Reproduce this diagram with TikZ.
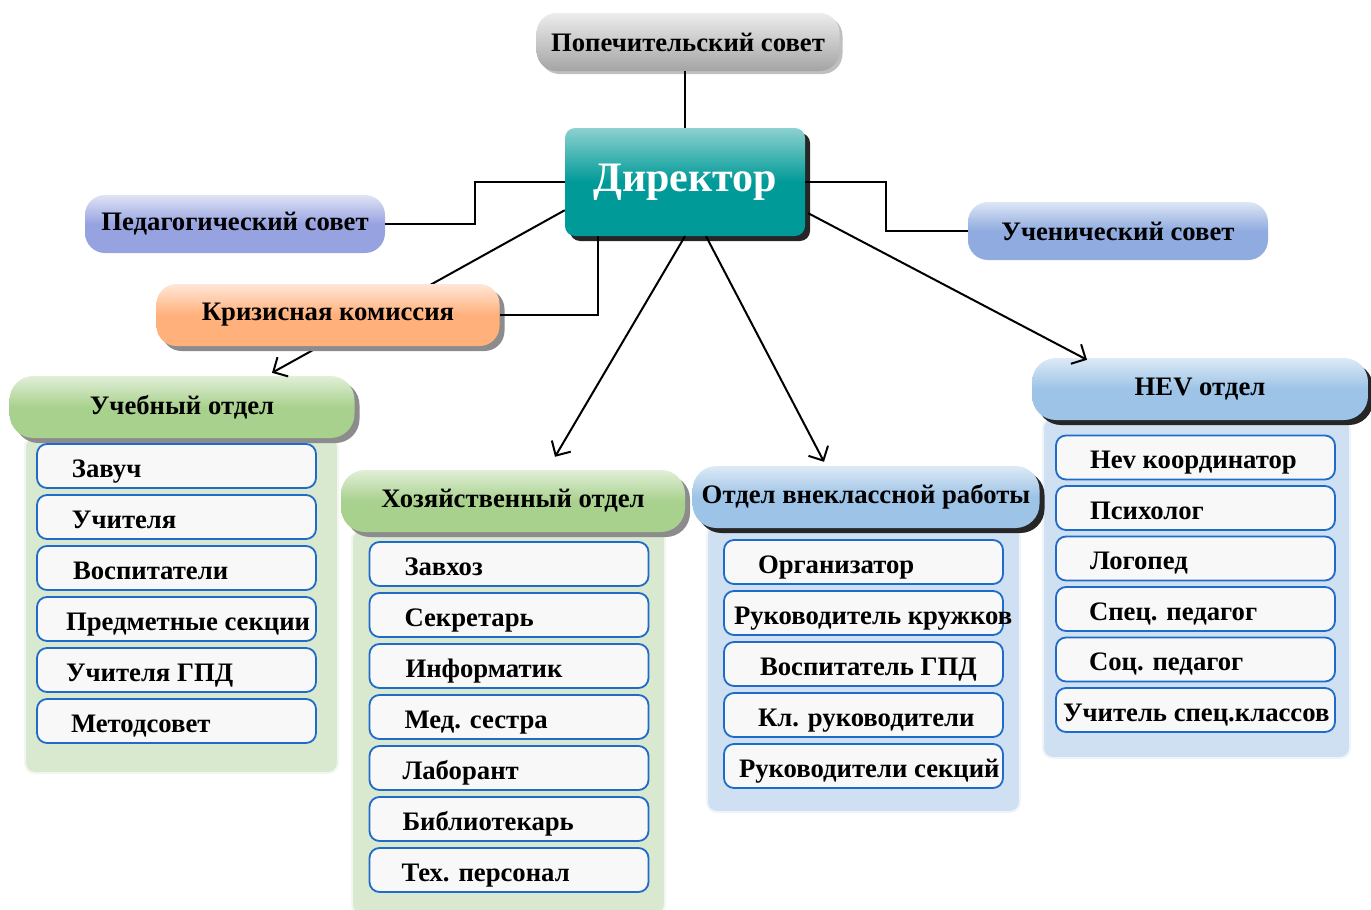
\documentclass[tikz,border=0pt]{standalone}
\usepackage{fontspec}
\setmainfont{Liberation Serif}
\usetikzlibrary{arrows.meta, calc, shadows}

\definecolor{trustgray}{HTML}{A4A4A4}
\definecolor{dirteal}{HTML}{009A98}
\definecolor{pedblue}{HTML}{97A3E0}
\definecolor{studblue}{HTML}{8FABDF}
\definecolor{crisisorange}{HTML}{FFB07B}
\definecolor{deptgreen}{HTML}{A9D18E}
\definecolor{panelgreen}{HTML}{D8E9CF}
\definecolor{deptblue}{HTML}{9DC3E6}
\definecolor{panelblue}{HTML}{CFE0F2}
\definecolor{itemedge}{HTML}{1F6BC9}
\definecolor{itemfill}{HTML}{F8F8F8}

% item text: fixed box width, own indent
\newcommand{\itm}[2]{\makebox[279pt][l]{\hspace{#1pt}#2}}

\begin{document}
\begin{tikzpicture}[x=1pt, y=-1pt,
    council/.style={rectangle, rounded corners=20pt, minimum height=58pt, font=\bfseries\fontsize{26.7}{31}\selectfont},
    chief/.style={rectangle, rounded corners=10pt, minimum width=240pt, minimum height=108pt, top color=dirteal!45!white, bottom color=dirteal, middle color=dirteal, text=white, font=\bfseries\fontsize{42}{48}\selectfont, drop shadow={shadow xshift=5pt, shadow yshift=-5pt, fill=black!85, opacity=1}},
    greendept/.style={rectangle, rounded corners=24pt, minimum height=62pt, top color=deptgreen!35!white, bottom color=deptgreen, middle color=deptgreen, font=\bfseries\fontsize{26.7}{31}\selectfont, drop shadow={shadow xshift=5pt, shadow yshift=-5pt, fill=black!45, opacity=1}},
    bluedept/.style={rectangle, rounded corners=24pt, minimum height=62pt, top color=deptblue!35!white, bottom color=deptblue, middle color=deptblue, font=\bfseries\fontsize{26.7}{31}\selectfont, drop shadow={shadow xshift=5pt, shadow yshift=-5pt, fill=black!85, opacity=1}},
    panel/.style={rectangle, rounded corners=10pt, line width=2pt},
    item/.style={rectangle, rounded corners=10pt, draw=itemedge, line width=1.8pt, fill=itemfill, minimum height=44pt, inner xsep=0pt, text height=22pt, text depth=0pt, font=\bfseries\fontsize{26.7}{31}\selectfont},
    link/.style={line width=2pt},
    arrow/.style={line width=2pt, -{Straight Barb[length=11pt, width=22pt]}}
  ]
  \useasboundingbox (0,0) rectangle (1371,910);

  % Councils and director
  \node[council, minimum width=303pt, top color=trustgray!20!white, bottom color=trustgray, drop shadow={shadow xshift=3pt, shadow yshift=-3pt, fill=black!25, opacity=1}] (trustee) at (688,42) {Попечительский совет};
  \node[chief] (dir) at (685,182) {Директор};
  \node[council, minimum width=300pt, top color=pedblue!30!white, bottom color=pedblue, middle color=pedblue] (ped) at (235,224) {Педагогический совет};
  \node[council, minimum width=300pt, top color=studblue!30!white, bottom color=studblue, middle color=studblue] (stud) at (1118,231) {Ученический совет};

  % Panels behind the lists
  \node[panel, fill=panelgreen, draw=panelgreen!35!white, minimum width=313pt, minimum height=336pt] (studypanel) at (181.5,605) {};
  \node[panel, fill=panelgreen, draw=panelgreen!35!white, minimum width=313pt, minimum height=385pt] (econpanel) at (508.5,722) {};
  \node[panel, fill=panelblue, draw=panelblue!35!white, minimum width=313pt, minimum height=287pt] (extrapanel) at (863.5,668.5) {};
  \node[panel, fill=panelblue, draw=panelblue!35!white, minimum width=307pt, minimum height=340pt] (hevpanel) at (1196.5,588) {};

  % Department headers
  \node[greendept, minimum width=345pt] (study) at (182,407) {Учебный отдел};
  \node[greendept, minimum width=344pt] (econ) at (513,501) {Хозяйственный отдел};
  \node[bluedept, minimum width=347pt] (extra) at (866,497) {Отдел внеклассной работы};
  \node[bluedept, minimum width=336pt] (hev) at (1200,389) {HEV отдел};

  % Lists
  \foreach \txt/\ind [count=\i] in {Завуч/35, Учителя/35, Воспитатели/36, Предметные секции/29, Учителя ГПД/29, Методсовет/34} {
      \node[item] (study\i) at (176.5,{415+51*\i}) {\itm{\ind}{\txt}};
    }
  \foreach \txt/\ind [count=\i] in {Завхоз/35, Секретарь/35, Информатик/36, Мед. сестра/35, Лаборант/33, Библиотекарь/33, Тех. персонал/32} {
      \node[item] (econ\i) at (509,{513+51*\i}) {\itm{\ind}{\txt}};
    }
  \foreach \txt/\ind [count=\i] in {Организатор/34, Руководитель кружков/10, Воспитатель ГПД/36, Кл. руководители/34, Руководители секций/15} {
      \node[item] (extra\i) at (863.5,{511+51*\i}) {\itm{\ind}{\txt}};
    }
  \foreach \txt/\ind [count=\i] in {Hev координатор/34, Психолог/34, Логопед/34, Спец. педагог/33, Соц. педагог/33, Учитель спец.классов/7} {
      \node[item] (hev\i) at (1195.5,{407+50.5*\i}) {\itm{\ind}{\txt}};
    }

  % Connectors
  \draw[link] (dir.north) -- (dir.north |- trustee.south);
  \draw[link] (dir.west) -- ++(-90,0) |- (ped.east);
  \draw[link] (dir.east) -- ++(81,0) |- (stud.west);
  \draw[arrow] ($(dir.south west)+(0,-26)$) -- ($(study.north)+(90,-3)$);
  \draw[arrow] (dir.south) -- ($(econ.north)+(42,-13)$);
  \draw[arrow] ($(dir.south)+(21,0)$) -- ($(extra.north)+(-42,-4)$);
  \draw[arrow] ($(dir.south east)+(3,-23)$) -- ($(hev.north)+(-113,2)$);

  % Crisis commission sits over the line to the study department
  \node[council, minimum width=343pt, minimum height=62pt, top color=crisisorange!30!white, bottom color=crisisorange, middle color=crisisorange, drop shadow={shadow xshift=5pt, shadow yshift=-5pt, fill=black!45, opacity=1}] (crisis) at (328,315) {Кризисная комиссия};
  \draw[link] ($(dir.south west)+(33,0)$) |- (crisis.east);

\end{tikzpicture}
\end{document}
